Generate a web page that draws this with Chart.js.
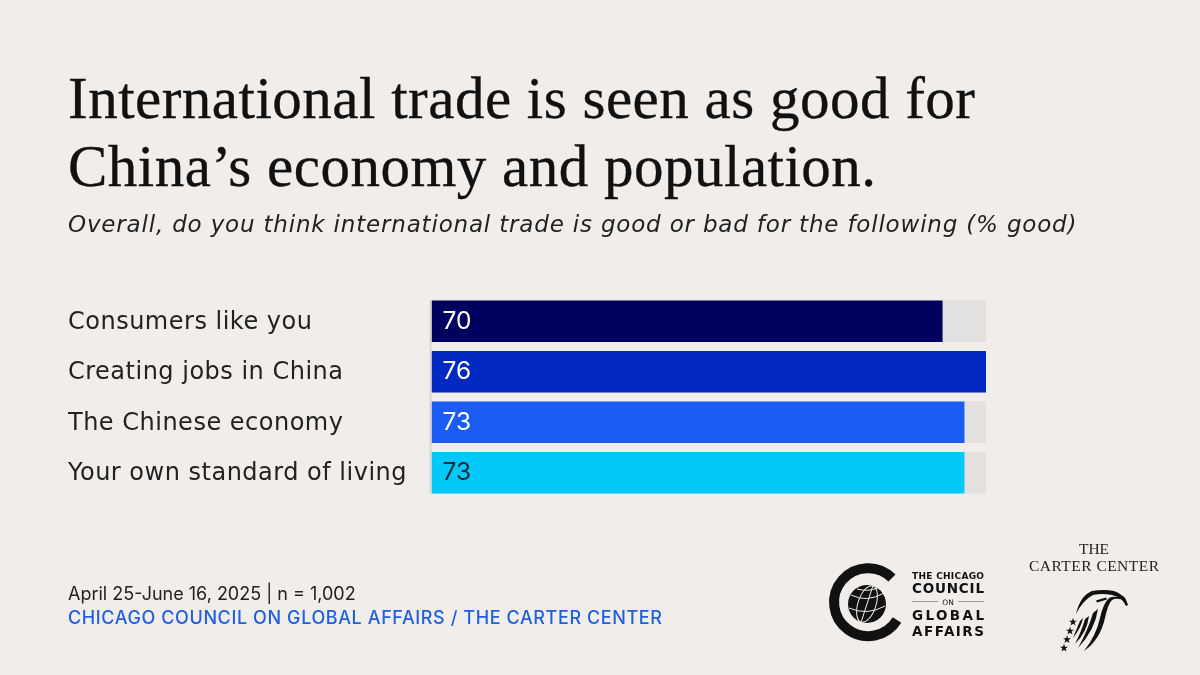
<!DOCTYPE html>
<html><head><meta charset="utf-8">
<script src="https://cdn.jsdelivr.net/npm/chart.js@4"></script>
<style>
html,body{margin:0;padding:0;background:#f0edea;}
#wrap{position:relative;width:1200px;height:675px;overflow:hidden;background:#f0edea;}
canvas{position:absolute;left:0;top:0;}
.t{position:absolute;white-space:nowrap;}
#title{left:68px;top:64px;font-family:"Liberation Serif",serif;font-size:59px;line-height:68px;color:#111;letter-spacing:0.5px;-webkit-text-stroke:0.35px #111;}
#sub{left:68px;top:210px;font-family:"DejaVu Sans",sans-serif;font-style:italic;font-size:23px;line-height:28px;color:#222;letter-spacing:0.82px;}
#date{left:68px;top:583px;font-family:"Inter",sans-serif;font-size:18px;line-height:22px;color:#222;}
#src{left:68px;top:607px;font-family:"Inter",sans-serif;font-weight:500;font-size:18px;line-height:22px;color:#1f5fe0;letter-spacing:0.6px;}
#logos{position:absolute;left:0;top:0;}
</style></head>
<body><div id="wrap">
<canvas id="c" width="1200" height="675"></canvas>
<div class="t" id="title">International trade is seen as good for<br>China’s economy and population.</div>
<div class="t" id="sub">Overall, do you think international trade is good or bad for the following (% good)</div>
<div class="t" id="date">April 25-June 16, 2025 | n = 1,002</div>
<div class="t" id="src">CHICAGO COUNCIL ON GLOBAL AFFAIRS / THE CARTER CENTER</div>
<svg id="logos" width="1200" height="675" viewBox="0 0 1200 675">
  <defs><polygon id="st" points="0,-4.2 1,-1.3 4,-1.3 1.600,0.500 2.500,3.400 0,1.700 -2.500,3.400 -1.600,0.500 -4,-1.300 -1,-1.300" fill="#111"/></defs>
  <path d="M892 578 A34 34 0 1 0 897 620" fill="none" stroke="#111" stroke-width="10"/>
  <circle cx="867" cy="604" r="19" fill="#111"/>
  <g fill="none" stroke="#f0edea" stroke-width="1">
    <ellipse cx="867" cy="604" rx="9" ry="19" transform="rotate(18 867 604)"/>
    <path d="M851 595 Q867 603 884 593"/><path d="M849 608 Q867 616 885 606"/>
    <path d="M857 589 Q867 592 878 588"/><path d="M867 585 L867 623" transform="rotate(18 867 604)"/>
  </g>
  <g fill="#111" font-family="DejaVu Sans, sans-serif" font-weight="700">
    <text x="912" y="579" font-size="9" textLength="72" lengthAdjust="spacing">THE CHICAGO</text>
    <text x="912" y="593" font-size="13.500" textLength="72" lengthAdjust="spacing">COUNCIL</text>
    <text x="948" y="604.500" font-size="7.500" text-anchor="middle" font-weight="400">ON</text>
    <text x="912" y="620" font-size="13.500" textLength="72" lengthAdjust="spacing">GLOBAL</text>
    <text x="912" y="636" font-size="13.500" textLength="72" lengthAdjust="spacing">AFFAIRS</text>
  </g>
  <path d="M912 601.500H938M958 601.500H984" stroke="#999" stroke-width="1"/>
  <g fill="#222" font-family="Liberation Serif, serif" text-anchor="middle">
    <text x="1094" y="554" font-size="15.500">THE</text>
    <text x="1094" y="571" font-size="15.500" textLength="130" lengthAdjust="spacing">CARTER CENTER</text>
  </g>
  <g fill="#111">
    <path d="M1076 614 Q1080 596 1092 591 Q1104 589 1114 591 Q1126 595 1128 605 L1126 606 Q1122 597 1112 595 Q1102 593 1093 595 Q1083 600 1076 614Z"/>
    <path d="M1096 600.500 L1106 597.500 L1107 599.500 L1097 602.500Z"/>
    <path d="M1126 601 Q1117 597 1112 600 Q1108 604 1105 618 Q1100 640 1084 651 Q1096 636 1100 618 Q1103 604 1109 598 Q1115 595 1126 599Z"/>
    <path d="M1098 609 Q1095 630 1078 648 Q1088 630 1093 613Z"/>
    <path d="M1089 616 Q1087 632 1075 644 Q1082 630 1085 619Z"/>
    <path d="M1083 618 Q1081 628 1073 638 Q1077 628 1080 621Z"/>
  </g>
  <use href="#st" x="1073" y="622"/><use href="#st" x="1070" y="631"/><use href="#st" x="1067" y="639.500"/><use href="#st" x="1064" y="648"/>
</svg>
</div>
<script>
const categories = ["Consumers like you","Creating jobs in China","The Chinese economy","Your own standard of living"];
const goodValues = [70,76,73,73];
const trackValues = [76,76,76,76];
const barColors = ["#00005f","#0229c2","#1a5cf4","#00c8f8"];
const valueColors = ["#ffffff","#ffffff","#ffffff","#1c2b3a"];

const valueLabels = {
  id:"valueLabels",
  beforeDraw(chart){ chart.ctx.letterSpacing = "0.5px"; },
  afterDatasetsDraw(chart){
    const ctx = chart.ctx, meta = chart.getDatasetMeta(1), x = chart.scales.x.getPixelForValue(0);
    const first = meta.data[0], last = meta.data[meta.data.length-1];
    ctx.save();
    ctx.letterSpacing = "0px";
    ctx.strokeStyle = "#d8d6d2"; ctx.lineWidth = 2;
    ctx.beginPath(); ctx.moveTo(x-1, first.y-first.height/2); ctx.lineTo(x-1, last.y+last.height/2); ctx.stroke();
    ctx.font = '24.5px "Inter", sans-serif';
    ctx.textAlign = "left"; ctx.textBaseline = "middle";
    meta.data.forEach((el,i)=>{ ctx.fillStyle = valueColors[i]; ctx.fillText(String(goodValues[i]), x+11, el.y); });
    ctx.restore();
  }
};
new Chart(document.getElementById("c"),{
  type:"bar",
  data:{labels:categories,datasets:[
    {data:trackValues,backgroundColor:"#e2e1df",grouped:false,order:2,barThickness:41},
    {data:goodValues,backgroundColor:barColors,grouped:false,order:1,barThickness:41}
  ]},
  options:{
    indexAxis:"y",responsive:false,animation:false,
    layout:{padding:{left:68,right:214,top:296,bottom:177}},
    plugins:{legend:{display:false},title:{display:false},tooltip:{enabled:false}},
    scales:{
      x:{display:false,min:0,max:76},
      y:{
        afterFit(s){s.width=363.5;},
        grid:{display:false,drawTicks:false},
        border:{display:false},
        ticks:{crossAlign:"far",padding:0,labelOffset:1.5,color:"#222",font:{family:"DejaVu Sans, sans-serif",size:24}}
      }
    }
  },
  plugins:[valueLabels]
});
</script>
</body></html>
